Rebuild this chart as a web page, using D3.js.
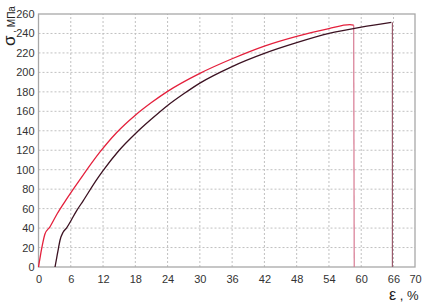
<!DOCTYPE html>
<html>
<head>
<meta charset="utf-8">
<script src="https://cdn.jsdelivr.net/npm/d3@7"></script>
<style>
  body { margin: 0; background: #fff; }
  svg { display: block; font-family: Arial, "Liberation Sans", sans-serif; }
  .grid line { stroke: #c0c0c0; stroke-dasharray: 2,2; }
  .tick text { fill: #333; font-size: 11px; }
</style>
</head>
<body>
<div id="chart"></div>
<script>
  // strain, %  /  stress, MPa
  const xTicks = [0, 6, 12, 18, 24, 30, 36, 42, 48, 54, 60, 66, 70];
  const yTicks = [0, 20, 40, 60, 80, 100, 120, 140, 160, 180, 200, 220, 240, 260];

  const redStrain = [0, 0.3, 0.65, 1.2, 2.1, 3.5, 5.0, 7.6, 11.4, 14.5, 18, 21, 24, 30, 36, 42, 48, 54, 57.9, 58.6];
  const redStress = [0, 10, 20.6, 34, 41, 55, 68, 89, 118, 138, 156, 169, 180.5, 199, 214, 227, 237, 245, 249, 248.5];
  const redBreak = 58.7;

  const darkStrain = [3.07, 3.4, 3.7, 4.0, 4.6, 5.2, 7.1, 8.3, 10.6, 12, 15, 18, 21, 24, 27, 30, 36, 42, 48, 54, 60, 65.6];
  const darkStress = [0, 10, 19, 27.5, 36, 40, 58, 68, 88, 99, 120, 137, 152, 166, 178, 189, 206, 219.5, 230.5, 240, 246.5, 251.4];
  const darkBreak = 65.8;

  const W = 438, H = 305;
  const margin = { top: 14, right: 23, bottom: 38, left: 38.5 };

  const svg = d3.select('#chart').append('svg')
    .attr('width', W).attr('height', H);

  const x = d3.scaleLinear().domain([0, 70]).range([margin.left, W - margin.right]);
  const y = d3.scaleLinear().domain([0, 260]).range([H - margin.bottom, margin.top]);

  // grid
  const grid = svg.append('g').attr('class', 'grid');
  grid.selectAll('line.vx').data(xTicks.filter(t => t > 0 && t < 70)).enter()
    .append('line')
    .attr('x1', d => x(d)).attr('x2', d => x(d))
    .attr('y1', y(0)).attr('y2', y(260));
  grid.selectAll('line.hy').data(yTicks.filter(t => t > 0 && t < 260)).enter()
    .append('line')
    .attr('x1', x(0)).attr('x2', x(70))
    .attr('y1', d => y(d)).attr('y2', d => y(d));

  // frame
  svg.append('rect')
    .attr('x', x(0)).attr('y', y(260))
    .attr('width', x(70) - x(0)).attr('height', y(0) - y(260))
    .attr('fill', 'none').attr('stroke', '#a8a8a8').attr('stroke-width', 1.3);

  const xAxis = d3.axisBottom(x).tickValues(xTicks).tickSize(0).tickPadding(8);
  svg.append('g').attr('transform', `translate(0,${y(0)})`).call(xAxis)
    .call(g => g.select('.domain').remove());

  const yAxis = d3.axisLeft(y).tickValues(yTicks).tickSize(0).tickPadding(4);
  svg.append('g').attr('transform', `translate(${x(0)},0)`).call(yAxis)
    .call(g => g.select('.domain').remove());

  const line = d3.line().x(d => x(d[0])).y(d => y(d[1])).curve(d3.curveMonotoneX);

  const redPts = redStrain.map((s, i) => [s, redStress[i]]);
  const darkPts = darkStrain.map((s, i) => [s, darkStress[i]]);

  // break drops
  svg.append('line')
    .attr('x1', x(redStrain[redStrain.length - 1])).attr('y1', y(redStress[redStress.length - 1]))
    .attr('x2', x(redBreak)).attr('y2', y(0))
    .attr('stroke', '#d77a92').attr('stroke-width', 1.2);
  svg.append('line')
    .attr('x1', x(darkBreak)).attr('y1', y(darkStress[darkStress.length - 1]))
    .attr('x2', x(darkBreak)).attr('y2', y(0))
    .attr('stroke', '#9a5a6c').attr('stroke-width', 1.2);

  svg.append('path').datum(darkPts)
    .attr('d', line).attr('fill', 'none')
    .attr('stroke', '#3c1222').attr('stroke-width', 1.3);
  svg.append('path').datum(redPts)
    .attr('d', line).attr('fill', 'none')
    .attr('stroke', '#e4203c').attr('stroke-width', 1.3);

  // axis titles
  const yt = svg.append('text')
    .attr('transform', `translate(15,46) rotate(-90)`)
    .attr('fill', '#222');
  yt.append('tspan').attr('font-size', 17).text('σ');
  yt.append('tspan').attr('font-size', 10).text(' , МПа');

  const xt = svg.append('text')
    .attr('x', 389).attr('y', 300)
    .attr('fill', '#222');
  xt.append('tspan').attr('font-size', 16).text('ε');
  xt.append('tspan').attr('font-size', 13).text(' , %');
</script>
</body>
</html>
